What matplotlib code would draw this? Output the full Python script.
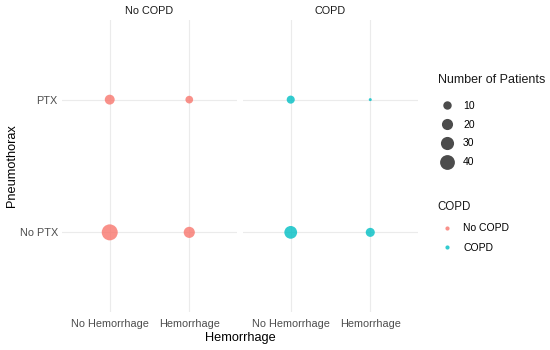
import numpy as np
import matplotlib
matplotlib.use("Agg")
import matplotlib.pyplot as plt
from matplotlib.lines import Line2D

plt.rcParams['font.family'] = ['Liberation Sans', 'DejaVu Sans']

copd_groups = ["No COPD", "COPD"]
hem_levels = ["No Hemorrhage", "Hemorrhage"]
ptx_levels = ["No PTX", "PTX"]
# counts[copd][ptx][hem]
counts = {
    "No COPD": {"No PTX": [48, 20], "PTX": [15, 8]},
    "COPD":    {"No PTX": [28, 12], "PTX": [9, 2]},
}
legend_sizes = [10, 20, 30, 40]
colors = {"No COPD": "#F8766D", "COPD": "#00BFC4"}

all_vals = [v for g in counts.values() for r in g.values() for v in r]
vmin, vmax = min(all_vals), max(all_vals)
PX = 0.72  # points per pixel at dpi 100

def diam_pt(v):
    frac = np.clip((np.asarray(v, float) - vmin) / (vmax - vmin), 0, 1)
    return (3 + 13 * np.sqrt(frac)) * PX

fig = plt.figure(figsize=(5.5, 3.5), dpi=100)
lefts = [62 / 550, 243 / 550]
w = 175 / 550
bottom = 1 - 312 / 350
h = (312 - 20) / 350
grid_c = "#EBEBEB"
tick_c = "#4D4D4D"

for i, g in enumerate(copd_groups):
    ax = fig.add_axes([lefts[i], bottom, w, h])
    ax.set_xlim(-0.6, 1.6)
    ax.set_ylim(-0.6, 1.6)
    for s in ax.spines.values():
        s.set_visible(False)
    ax.set_xticks(range(len(hem_levels)))
    ax.set_xticklabels(hem_levels)
    ax.set_yticks(range(len(ptx_levels)))
    if i == 0:
        ax.set_yticklabels(ptx_levels)
    else:
        ax.set_yticklabels([])
    ax.tick_params(length=0, labelsize=7.8, colors=tick_c)
    ax.tick_params(axis='x', pad=5)
    ax.tick_params(axis='y', pad=3)
    ax.grid(True, color=grid_c, linewidth=0.8)
    ax.set_axisbelow(True)
    for yi, p in enumerate(ptx_levels):
        vals = counts[g][p]
        ax.scatter(range(len(hem_levels)), [yi] * len(vals),
                   s=diam_pt(vals) ** 2, color=colors[g], alpha=0.8,
                   linewidths=0, zorder=3)
    ax.set_title(g, fontsize=7.8, color="#1A1A1A", pad=4)

fig.text(0.5 * (lefts[0] + lefts[1] + w), 1 - 338 / 350, "Hemorrhage",
         ha="center", va="center", fontsize=9.2, color="black")
fig.text(12 / 550, 1 - 166 / 350, "Pneumothorax", rotation=90,
         ha="center", va="center", fontsize=9.2, color="black")

# size legend
fig.text(438 / 550, 1 - 80 / 350, "Number of Patients", ha="left",
         va="center", fontsize=9, color="#1A1A1A")
size_handles = [Line2D([], [], marker='o', linestyle='None', color='black',
                       alpha=0.7, markeredgewidth=0, markersize=float(diam_pt(v)))
                for v in legend_sizes]
fig.legend(size_handles, [str(v) for v in legend_sizes], loc="center left",
           bbox_to_anchor=(439.7 / 550, 1 - 134 / 350), frameon=False,
           fontsize=7.5, labelspacing=0.86, borderpad=0, borderaxespad=0,
           handlelength=1.4, handletextpad=0.84)

# colour legend
fig.text(437 / 550, 1 - 207 / 350, "COPD", ha="left", va="center",
         fontsize=8.3, color="#1A1A1A")
copd_handles = [Line2D([], [], marker='o', linestyle='None', color=colors[g],
                       alpha=0.8, markeredgewidth=0, markersize=3)
                for g in copd_groups]
fig.legend(copd_handles, copd_groups, loc="center left",
           bbox_to_anchor=(439.7 / 550, 1 - 238 / 350), frameon=False,
           fontsize=7.5, labelspacing=0.93, borderpad=0, borderaxespad=0,
           handlelength=1.4, handletextpad=0.84)

fig.savefig("out.png", dpi=100)
